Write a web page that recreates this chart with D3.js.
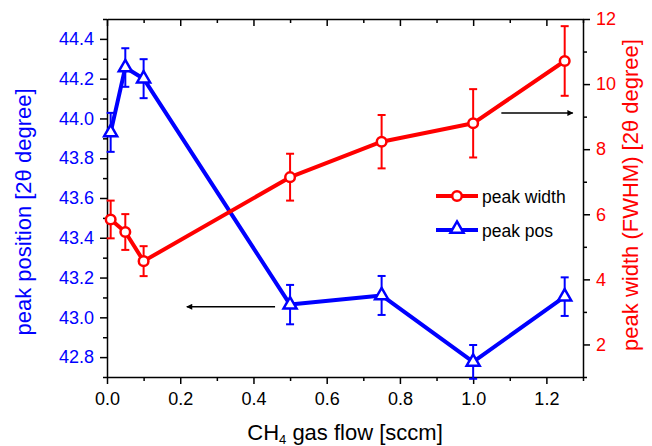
<!DOCTYPE html>
<html>
<head>
<meta charset="utf-8">
<script src="https://cdn.jsdelivr.net/npm/d3@7"></script>
<style>
  html, body { margin: 0; padding: 0; background: #fff; }
  svg { display: block; font-family: Arial, "Liberation Sans", sans-serif; }
</style>
</head>
<body>
<svg id="chart" width="652" height="446"></svg>
<script>
// ---- data ----
const flow = [0.01, 0.05, 0.1, 0.5, 0.75, 1.0, 1.25];
const peakPos = [43.93, 44.256, 44.20, 43.064, 43.11, 42.776, 43.104];
const peakPosErr = [0.098, 0.097, 0.098, 0.099, 0.098, 0.085, 0.097];
const peakWidth = [5.84, 5.455, 4.56, 7.14, 8.23, 8.795, 10.71];
const peakWidthErr = [0.58, 0.55, 0.46, 0.72, 0.82, 1.05, 1.07];

const xTicks = [0, 0.2, 0.4, 0.6, 0.8, 1.0, 1.2];
const xMinor = [0.1, 0.3, 0.5, 0.7, 0.9, 1.1, 1.3];
const yLeftTicks = [42.8, 43.0, 43.2, 43.4, 43.6, 43.8, 44.0, 44.2, 44.4];
const yLeftMinor = [42.7, 42.9, 43.1, 43.3, 43.5, 43.7, 43.9, 44.1, 44.3, 44.5];
const yRightTicks = [2, 4, 6, 8, 10, 12];
const yRightMinor = [1, 3, 5, 7, 9, 11];

const legendLabels = ["peak width", "peak pos"];

// ---- layout ----
const svg = d3.select("#chart");
const L = 107, R = 583, T = 19, B = 377;
const BLUE = "#0000ff", RED = "#ff0000";

const x = d3.scaleLinear().domain([0, 1.3]).range([L, R]);
const yL = d3.scaleLinear().domain([42.7, 44.5]).range([B, T]);
const yR = d3.scaleLinear().domain([1, 12]).range([B, T]);

function styleAxis(g, color) {
  g.select(".domain").attr("stroke", "#000").attr("stroke-width", 1.5);
  g.selectAll(".tick line").attr("stroke", "#000").attr("stroke-width", 1.5);
  g.selectAll(".tick text").attr("fill", color).style("font-size", "18px")
    .style("font-family", "Arial, 'Liberation Sans', sans-serif");
}

// bottom axis
const gxMinor = svg.append("g").attr("transform", `translate(0,${B})`)
  .call(d3.axisBottom(x).tickValues(xMinor).tickSize(4).tickFormat(""));
gxMinor.select(".domain").remove();
gxMinor.selectAll("line").attr("stroke", "#000").attr("stroke-width", 1.5);
const gx = svg.append("g").attr("transform", `translate(0,${B})`)
  .call(d3.axisBottom(x).tickValues(xTicks).tickSize(7).tickSizeOuter(0).tickPadding(8).tickFormat(d3.format(".1f")));
styleAxis(gx, "#000");
gx.selectAll(".tick text").attr("dy", null).attr("y", 28);

// top axis (inward ticks)
const gtMinor = svg.append("g").attr("transform", `translate(0,${T})`)
  .call(d3.axisTop(x).tickValues(xMinor).tickSize(-4).tickFormat(""));
gtMinor.select(".domain").remove();
gtMinor.selectAll("line").attr("stroke", "#000").attr("stroke-width", 1.5);
const gt = svg.append("g").attr("transform", `translate(0,${T})`)
  .call(d3.axisTop(x).tickValues(xTicks).tickSize(-7).tickSizeOuter(0).tickFormat(""));
styleAxis(gt, "#000");

// left axis
const glMinor = svg.append("g").attr("transform", `translate(${L},0)`)
  .call(d3.axisLeft(yL).tickValues(yLeftMinor).tickSize(4).tickFormat(""));
glMinor.select(".domain").remove();
glMinor.selectAll("line").attr("stroke", "#000").attr("stroke-width", 1.5);
const gl = svg.append("g").attr("transform", `translate(${L},0)`)
  .call(d3.axisLeft(yL).tickValues(yLeftTicks).tickSize(7).tickSizeOuter(0).tickPadding(6).tickFormat(d3.format(".1f")));
styleAxis(gl, BLUE);

// right axis
const grMinor = svg.append("g").attr("transform", `translate(${R},0)`)
  .call(d3.axisRight(yR).tickValues(yRightMinor).tickSize(4).tickFormat(""));
grMinor.select(".domain").remove();
grMinor.selectAll("line").attr("stroke", "#000").attr("stroke-width", 1.5);
const gr = svg.append("g").attr("transform", `translate(${R},0)`)
  .call(d3.axisRight(yR).tickValues(yRightTicks).tickSize(7).tickSizeOuter(0).tickPadding(6).tickFormat(d3.format("d")));
styleAxis(gr, RED);

// axis titles
const xt = svg.append("text").attr("x", (L + R) / 2).attr("y", 440)
  .attr("text-anchor", "middle").style("font-size", "22px").attr("fill", "#000");
xt.append("tspan").text("CH");
xt.append("tspan").text("4").style("font-size", "13px").attr("dy", 3.5);
xt.append("tspan").text(" gas flow [sccm]").attr("dy", -3.5);

svg.append("text").attr("transform", `translate(31,212) rotate(-90)`)
  .attr("text-anchor", "middle").style("font-size", "22px").attr("fill", BLUE)
  .text("peak position [2θ degree]");
svg.append("text").attr("transform", `translate(638,195) rotate(-90)`)
  .attr("text-anchor", "middle").style("font-size", "22px").attr("fill", RED)
  .text("peak width (FWHM) [2θ degree]");

// ---- series ----
const triangle = d3.symbol().type(d3.symbolTriangle).size(74);

function drawSeries(vals, errs, yScale, color, marker) {
  const pts = flow.map((f, i) => ({ x: f, y: vals[i], e: errs[i] }));
  const g = svg.append("g");
  g.append("path").datum(pts)
    .attr("d", d3.line().x(d => x(d.x)).y(d => yScale(d.y)))
    .attr("fill", "none").attr("stroke", color).attr("stroke-width", 4)
    .attr("stroke-linejoin", "round");
  const eb = g.append("g").selectAll("g").data(pts).join("g")
    .attr("stroke", color).attr("stroke-width", 2);
  eb.append("line").attr("x1", d => x(d.x)).attr("x2", d => x(d.x))
    .attr("y1", d => yScale(d.y - d.e)).attr("y2", d => yScale(d.y + d.e));
  eb.append("line").attr("x1", d => x(d.x) - 4).attr("x2", d => x(d.x) + 4)
    .attr("y1", d => yScale(d.y - d.e)).attr("y2", d => yScale(d.y - d.e));
  eb.append("line").attr("x1", d => x(d.x) - 4).attr("x2", d => x(d.x) + 4)
    .attr("y1", d => yScale(d.y + d.e)).attr("y2", d => yScale(d.y + d.e));
  if (marker === "circle") {
    g.selectAll("circle.m").data(pts).join("circle").attr("class", "m")
      .attr("cx", d => x(d.x)).attr("cy", d => yScale(d.y)).attr("r", 4.8)
      .attr("fill", "#fff").attr("stroke", color).attr("stroke-width", 2.5);
  } else {
    g.selectAll("path.m").data(pts).join("path").attr("class", "m")
      .attr("transform", d => `translate(${x(d.x)},${yScale(d.y)})`)
      .attr("d", triangle)
      .attr("fill", "#fff").attr("stroke", color).attr("stroke-width", 2.5);
  }
}

drawSeries(peakPos, peakPosErr, yL, BLUE, "triangle");
drawSeries(peakWidth, peakWidthErr, yR, RED, "circle");

// ---- arrows ----
const defs = svg.append("defs");
defs.append("marker").attr("id", "ah").attr("viewBox", "0 0 10 10")
  .attr("refX", 9).attr("refY", 5).attr("markerWidth", 9).attr("markerHeight", 6)
  .attr("markerUnits", "userSpaceOnUse").attr("orient", "auto")
  .append("path").attr("d", "M0,0 L10,5 L0,10 Z").attr("fill", "#000");

svg.append("line").attr("x1", x(0.459)).attr("x2", x(0.218))
  .attr("y1", yL(43.053)).attr("y2", yL(43.053))
  .attr("stroke", "#000").attr("stroke-width", 1.5).attr("marker-end", "url(#ah)");
svg.append("line").attr("x1", x(1.077)).attr("x2", x(1.272))
  .attr("y1", yR(9.11)).attr("y2", yR(9.11))
  .attr("stroke", "#000").attr("stroke-width", 1.5).attr("marker-end", "url(#ah)");

// ---- legend ----
const leg = svg.append("g");
const legItems = [
  { label: legendLabels[0], color: RED, marker: "circle", y: 196 },
  { label: legendLabels[1], color: BLUE, marker: "triangle", y: 230 }
];
legItems.forEach(it => {
  leg.append("line").attr("x1", 436).attr("x2", 478).attr("y1", it.y).attr("y2", it.y)
    .attr("stroke", it.color).attr("stroke-width", 4);
  if (it.marker === "circle") {
    leg.append("circle").attr("cx", 457).attr("cy", it.y).attr("r", 4.8)
      .attr("fill", "#fff").attr("stroke", it.color).attr("stroke-width", 2.5);
  } else {
    leg.append("path").attr("transform", `translate(457,${it.y - 1})`).attr("d", triangle)
      .attr("fill", "#fff").attr("stroke", it.color).attr("stroke-width", 2.5);
  }
  leg.append("text").attr("x", 482).attr("y", it.y + 6.5).style("font-size", "17.5px")
    .attr("fill", "#000").text(it.label);
});
</script>
</body>
</html>
